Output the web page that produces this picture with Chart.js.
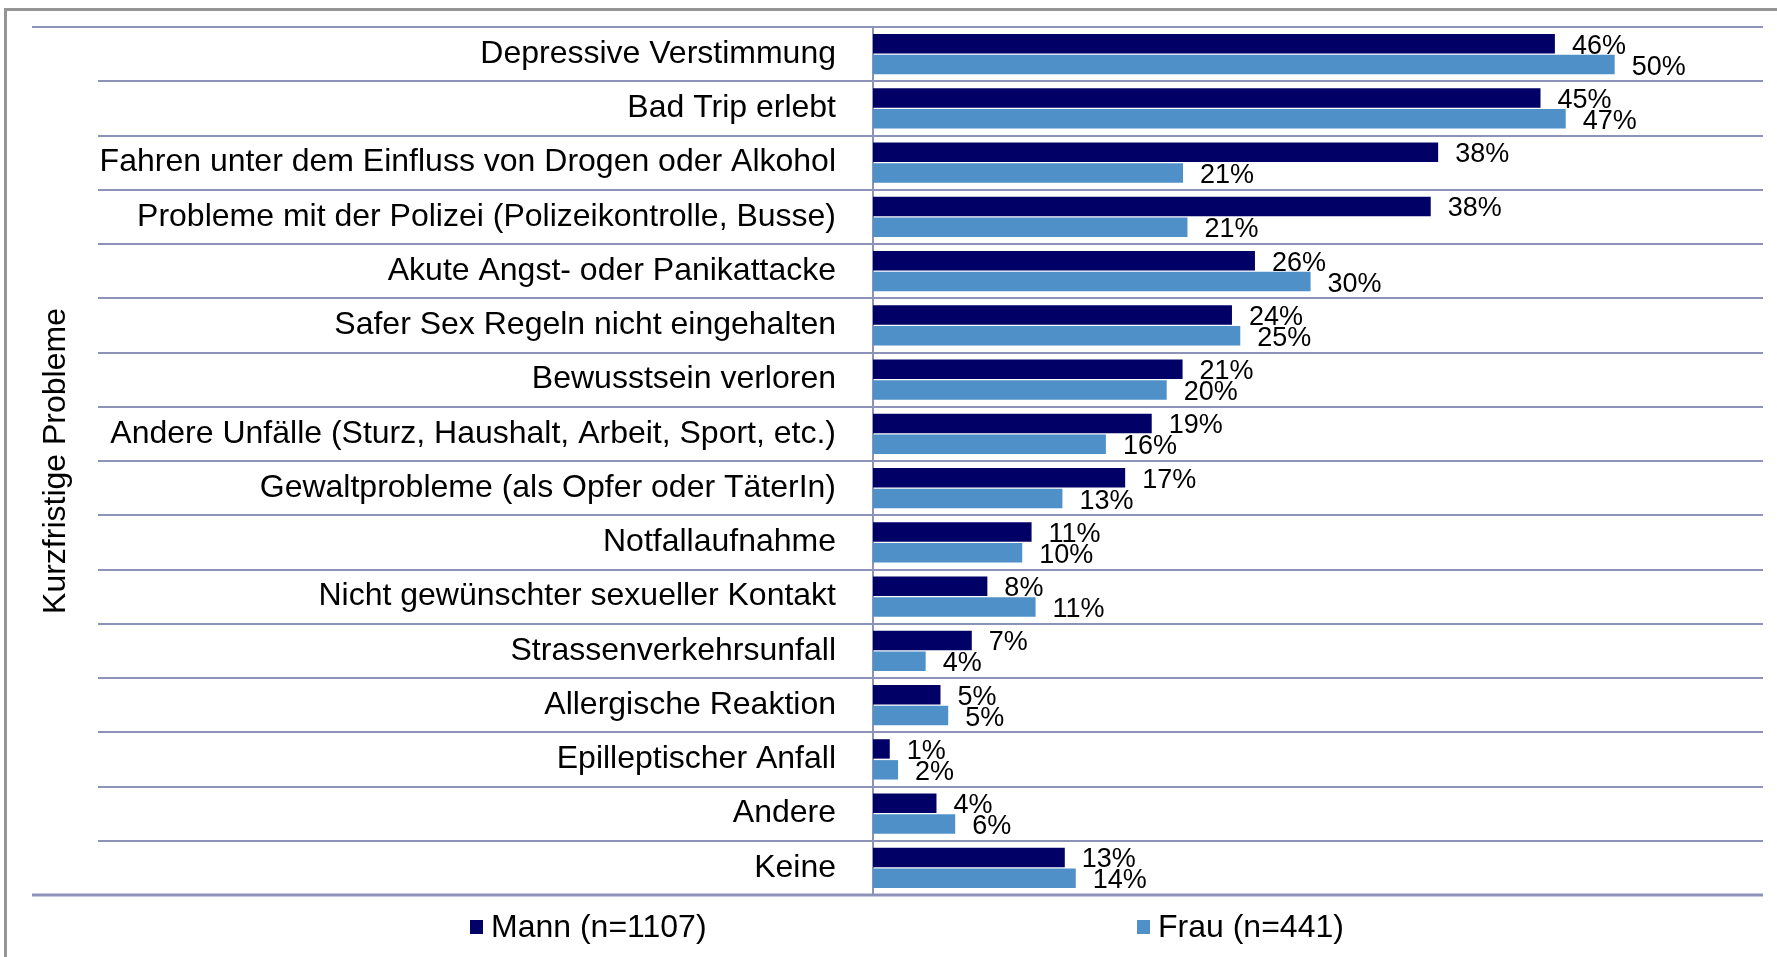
<!DOCTYPE html>
<html>
<head>
<meta charset="utf-8">
<script src="https://cdn.jsdelivr.net/npm/chart.js@4"></script>
<style>
  html, body { margin: 0; padding: 0; background: #ffffff; }
  #wrap { width: 1777px; height: 957px; position: relative; }
</style>
</head>
<body>
<div id="wrap"><canvas id="c" width="1777" height="957"></canvas></div>
<script>
const categories = [
  'Depressive Verstimmung',
  'Bad Trip erlebt',
  'Fahren unter dem Einfluss von Drogen oder Alkohol',
  'Probleme mit der Polizei (Polizeikontrolle, Busse)',
  'Akute Angst- oder Panikattacke',
  'Safer Sex Regeln nicht eingehalten',
  'Bewusstsein verloren',
  'Andere Unfälle (Sturz, Haushalt, Arbeit, Sport, etc.)',
  'Gewaltprobleme (als Opfer oder TäterIn)',
  'Notfallaufnahme',
  'Nicht gewünschter sexueller Kontakt',
  'Strassenverkehrsunfall',
  'Allergische Reaktion',
  'Epilleptischer Anfall',
  'Andere',
  'Keine'
];
const mannValues = [45.97, 45.0, 38.1, 37.6, 25.75, 24.2, 20.87, 18.79, 17.0, 10.69, 7.71, 6.66, 4.55, 1.13, 4.28, 12.93];
const frauValues = [50.0, 46.7, 20.9, 21.2, 29.5, 24.76, 19.8, 15.7, 12.77, 10.06, 10.96, 3.55, 5.07, 1.69, 5.54, 13.67];
const seriesNames = ['Mann (n=1107)', 'Frau (n=441)'];
const axisTitle = 'Kurzfristige Probleme';

const FONT = '"Liberation Sans", Arial, "DejaVu Sans", sans-serif';
const GRID = '#8c93b8';
const DARK = '#000066';
const LIGHT = '#4f90c8';

const framePlugin = {
  id: 'frame',
  beforeDraw(chart) {
    const ctx = chart.ctx;
    ctx.save();
    ctx.strokeStyle = '#959595';
    ctx.lineWidth = 3;
    ctx.beginPath();
    ctx.moveTo(5.5, 960);
    ctx.lineTo(5.5, 9.5);
    ctx.lineTo(1780, 9.5);
    ctx.stroke();
    ctx.restore();
  }
};

const rowLinesPlugin = {
  id: 'rowLines',
  beforeDatasetsDraw(chart) {
    const ys = chart.scales.y, area = chart.chartArea, ctx = chart.ctx;
    const n = chart.data.labels.length;
    ctx.save();
    ctx.strokeStyle = GRID;
    for (let i = 0; i <= n; i++) {
      const py = Math.round(ys.getPixelForValue(i - 0.5));
      const outer = (i === 0 || i === n);
      ctx.lineWidth = i === n ? 3 : 2;
      ctx.beginPath();
      ctx.moveTo(outer ? 32 : 98, py);
      ctx.lineTo(area.right, py);
      ctx.stroke();
    }
    ctx.restore();
  }
};

const valueLabelPlugin = {
  id: 'valueLabels',
  afterDatasetsDraw(chart) {
    const ctx = chart.ctx;
    ctx.save();
    ctx.font = '27px ' + FONT;
    ctx.fillStyle = '#000000';
    ctx.textAlign = 'left';
    ctx.textBaseline = 'alphabetic';
    chart.data.datasets.forEach((ds, di) => {
      const meta = chart.getDatasetMeta(di);
      meta.data.forEach((bar, i) => {
        ctx.fillText(Math.round(ds.data[i]) + '%', bar.x + 17, bar.y + 10);
      });
    });
    ctx.restore();
  }
};

const legendPlugin = {
  id: 'customLegend',
  afterDraw(chart) {
    const ctx = chart.ctx;
    const yMid = chart.chartArea.bottom + 32;
    const starts = [470, 1137];
    ctx.save();
    ctx.font = '32px ' + FONT;
    ctx.textBaseline = 'middle';
    ctx.textAlign = 'left';
    chart.data.datasets.forEach((ds, di) => {
      const x = starts[di];
      ctx.fillStyle = ds.backgroundColor;
      ctx.fillRect(x, yMid - 7, 13, 14);
      ctx.fillStyle = '#000000';
      ctx.fillText(ds.label, x + 21, yMid + 1);
    });
    ctx.restore();
  }
};

new Chart(document.getElementById('c'), {
  type: 'bar',
  data: {
    labels: categories,
    datasets: [
      { label: seriesNames[0], data: mannValues, backgroundColor: DARK, categoryPercentage: 0.77, barPercentage: 0.93 },
      { label: seriesNames[1], data: frauValues, backgroundColor: LIGHT, categoryPercentage: 0.77, barPercentage: 0.93 }
    ]
  },
  options: {
    indexAxis: 'y',
    responsive: false,
    animation: false,
    devicePixelRatio: 1,
    layout: { padding: { left: 0, right: 14, top: 27, bottom: 62 } },
    plugins: {
      legend: { display: false },
      tooltip: { enabled: false }
    },
    scales: {
      x: {
        display: false,
        min: 0,
        max: 60
      },
      y: {
        grid: { display: false, drawTicks: false },
        border: { display: true, color: GRID, width: 2 },
        ticks: {
          autoSkip: false,
          padding: 37,
          color: '#000000',
          font: { family: FONT, size: 32 }
        },
        title: {
          display: true,
          text: axisTitle,
          color: '#000000',
          font: { family: FONT, size: 32 },
          padding: { top: 37, bottom: 0 }
        },
        afterFit(scale) {
          scale.width = 873;
          scale.paddingTop = 0;
          scale.paddingBottom = 0;
        }
      }
    }
  },
  plugins: [framePlugin, rowLinesPlugin, valueLabelPlugin, legendPlugin]
});
</script>
</body>
</html>
